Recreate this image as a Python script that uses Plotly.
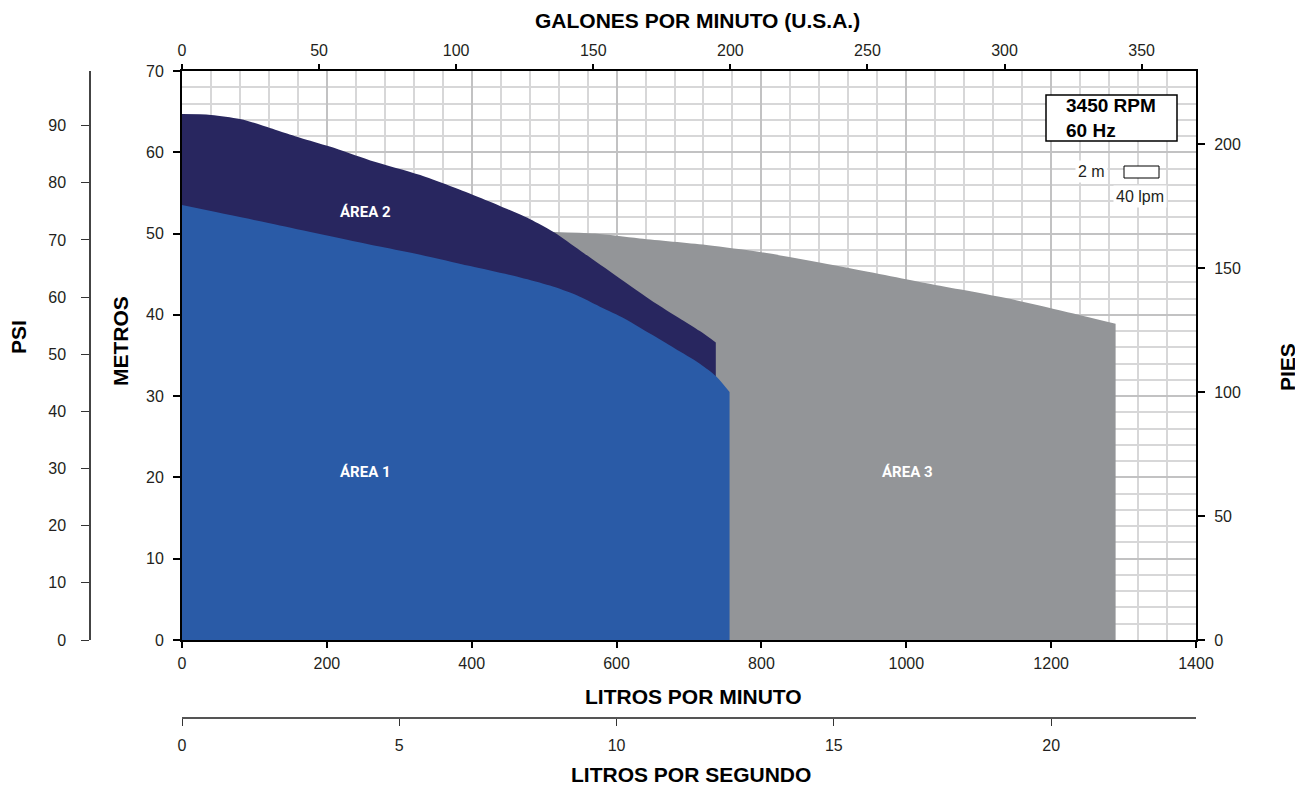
import plotly.graph_objects as go

W, H = 1303, 786
OFF = 8  # page margin around the figure

# flow in litres per minute, head in metres
AREA1_LPM = [0, 135, 273, 329, 398, 467, 508, 545, 577, 612, 646, 680, 715, 738, 756]
AREA1_M = [53.5, 51.0, 48.4, 47.4, 46.0, 44.6, 43.6, 42.4, 41.0, 39.5, 37.7, 35.9, 34.0, 32.4, 30.5]

AREA2_LPM = [0, 40, 80, 108, 135, 163, 204, 260, 329, 398, 439, 480, 513, 550, 590, 646, 690, 715, 737]
AREA2_M = [64.7, 64.6, 64.1, 63.4, 62.6, 61.8, 60.7, 59.0, 57.2, 54.9, 53.4, 51.8, 50.2, 47.9, 45.4, 41.9, 39.4, 38.0, 36.6]

AREA3_LPM = [513, 570, 632, 724, 800, 913, 1028, 1136, 1210, 1289]
AREA3_M = [50.2, 50.0, 49.4, 48.6, 47.7, 45.9, 43.9, 42.1, 40.6, 38.9]

AREA_COLORS = ["#2a5ba7", "#28265f", "#939598"]
AREA_LABELS = ["ÁREA 1", "ÁREA 2", "ÁREA 3"]
LABEL_POS = [(253, 20.7), (253, 52.6), (1001, 20.7)]

LPM_TICKS = [0, 200, 400, 600, 800, 1000, 1200, 1400]
GPM_TICKS = [0, 50, 100, 150, 200, 250, 300, 350]
LPS_TICKS = [0, 5, 10, 15, 20]
PSI_TICKS = [0, 10, 20, 30, 40, 50, 60, 70, 80, 90]
FT_TICKS = [0, 50, 100, 150, 200]

LPM_MAX = 1400
M_MAX = 70


def px(x):
    return (x - OFF) / W


def py(y):
    return 1 - (y - OFF) / H


fig = go.Figure()

# grey first, navy over it, blue on top; fill straight down to zero head
for xs, ys, color in [(AREA3_LPM, AREA3_M, AREA_COLORS[2]),
                      (AREA2_LPM, AREA2_M, AREA_COLORS[1]),
                      (AREA1_LPM, AREA1_M, AREA_COLORS[0])]:
    fig.add_trace(go.Scatter(x=xs, y=ys, fill="tozeroy", fillcolor=color,
                             mode="lines", line=dict(width=0, color=color, shape="spline", smoothing=0.8),
                             hoverinfo="skip"))

# invisible traces so the extra unit axes get drawn
for xa, ya in [("x2", "y"), ("x", "y2"), ("x", "y3"), ("x3", "y")]:
    fig.add_trace(go.Scatter(x=[0], y=[0], xaxis=xa, yaxis=ya, mode="markers",
                             marker=dict(opacity=0), hoverinfo="skip"))

for text, (lx, ly) in zip(AREA_LABELS, LABEL_POS):
    fig.add_annotation(x=lx, y=ly, xref="x", yref="y", text=f"<b>{text}</b>",
                       showarrow=False,
                       font=dict(family="Roboto, sans-serif", size=15, color="white"))

axis_font = dict(family="Liberation Sans, Arial, sans-serif", size=16, color="#231f20")
frame = dict(showline=True, linecolor="black", linewidth=2, ticks="outside",
             tickcolor="black", tickwidth=1.5, zeroline=False, tickfont=axis_font)

fig.update_layout(
    width=W, height=H,
    margin=dict(l=0, r=0, t=0, b=0, autoexpand=False),
    plot_bgcolor="white", paper_bgcolor="white",
    showlegend=False,
    font=axis_font,
    xaxis=dict(domain=[px(182), px(1196)], range=[0, LPM_MAX], tickvals=LPM_TICKS,
               anchor="y", ticklen=6, ticklabelstandoff=2,
               showgrid=True, gridcolor="#c2c2c3", gridwidth=2.2,
               minor=dict(dtick=40, showgrid=True, gridcolor="#d7d7d8", gridwidth=1.6, ticks=""),
               **frame),
    yaxis=dict(domain=[py(640), py(71)], range=[0, M_MAX], tickvals=list(range(0, 71, 10)),
               anchor="x", ticklen=7, ticklabelstandoff=6,
               showgrid=True, gridcolor="#c2c2c3", gridwidth=2.2,
               minor=dict(dtick=2, showgrid=True, gridcolor="#d7d7d8", gridwidth=1.6, ticks=""),
               **frame),
    xaxis2=dict(overlaying="x", side="top", anchor="y", range=[0, LPM_MAX / 3.785411784],
                tickvals=GPM_TICKS, ticklen=5, ticklabelstandoff=2, showgrid=False, **frame),
    yaxis2=dict(overlaying="y", side="right", anchor="x", range=[0, M_MAX / 0.3048],
                tickvals=FT_TICKS, ticklen=7, ticklabelstandoff=6, showgrid=False, **frame),
    yaxis3=dict(overlaying="y", anchor="free", position=px(90), side="left",
                range=[0, M_MAX * 1.42233], tickvals=PSI_TICKS, ticks="outside", ticklen=8,
                tickcolor="#333", showline=True, linecolor="#444", linewidth=1.5,
                showgrid=False, zeroline=False, ticklabelstandoff=12, tickfont=axis_font),
    xaxis3=dict(overlaying="x", anchor="free", position=py(718), side="bottom",
                range=[0, LPM_MAX / 60], tickvals=LPS_TICKS, ticks="outside", ticklen=7,
                tickcolor="#333", showline=True, linecolor="#555", linewidth=2,
                showgrid=False, zeroline=False, ticklabelstandoff=6, tickfont=axis_font),
)

# axis titles
title_font = dict(family="Liberation Sans, Arial, sans-serif", size=21, color="black")
for text, x, y, ang in [("GALONES POR MINUTO (U.S.A.)", 697, 20, 0),
                        ("LITROS POR MINUTO", 693, 696, 0),
                        ("LITROS POR SEGUNDO", 691, 774, 0),
                        ("PSI", 19, 337, -90),
                        ("METROS", 120, 341, -90),
                        ("PIES", 1287, 367, -90)]:
    fig.add_annotation(x=px(x), y=py(y), xref="paper", yref="paper", text=f"<b>{text}</b>",
                       showarrow=False, textangle=ang, font=title_font,
                       xanchor="center", yanchor="middle")

# speed box
fig.add_shape(type="rect", xref="paper", yref="paper", x0=px(1046), x1=px(1177),
              y0=py(141), y1=py(95), line=dict(color="black", width=1.5),
              fillcolor="white", layer="above")
fig.add_annotation(x=px(1064), y=py(118), xref="paper", yref="paper",
                   text="<b>3450 RPM<br>60 Hz</b>", showarrow=False, align="left",
                   xanchor="left", yanchor="middle",
                   font=dict(family="Liberation Sans, Arial, sans-serif", size=19, color="black"))

# grid cell scale
fig.add_shape(type="rect", xref="paper", yref="paper", x0=px(1124), x1=px(1159),
              y0=py(178), y1=py(166), line=dict(color="black", width=1),
              fillcolor="white", layer="above")
small = dict(family="Liberation Sans, Arial, sans-serif", size=16, color="#231f20")
fig.add_annotation(x=px(1091), y=py(172), xref="paper", yref="paper", text="2 m",
                   showarrow=False, bgcolor="white", font=small, borderpad=2,
                   xanchor="center", yanchor="middle")
fig.add_annotation(x=px(1140), y=py(196), xref="paper", yref="paper", text="40 lpm",
                   showarrow=False, bgcolor="white", font=small, borderpad=2,
                   xanchor="center", yanchor="middle")

fig.write_html("out.html")
